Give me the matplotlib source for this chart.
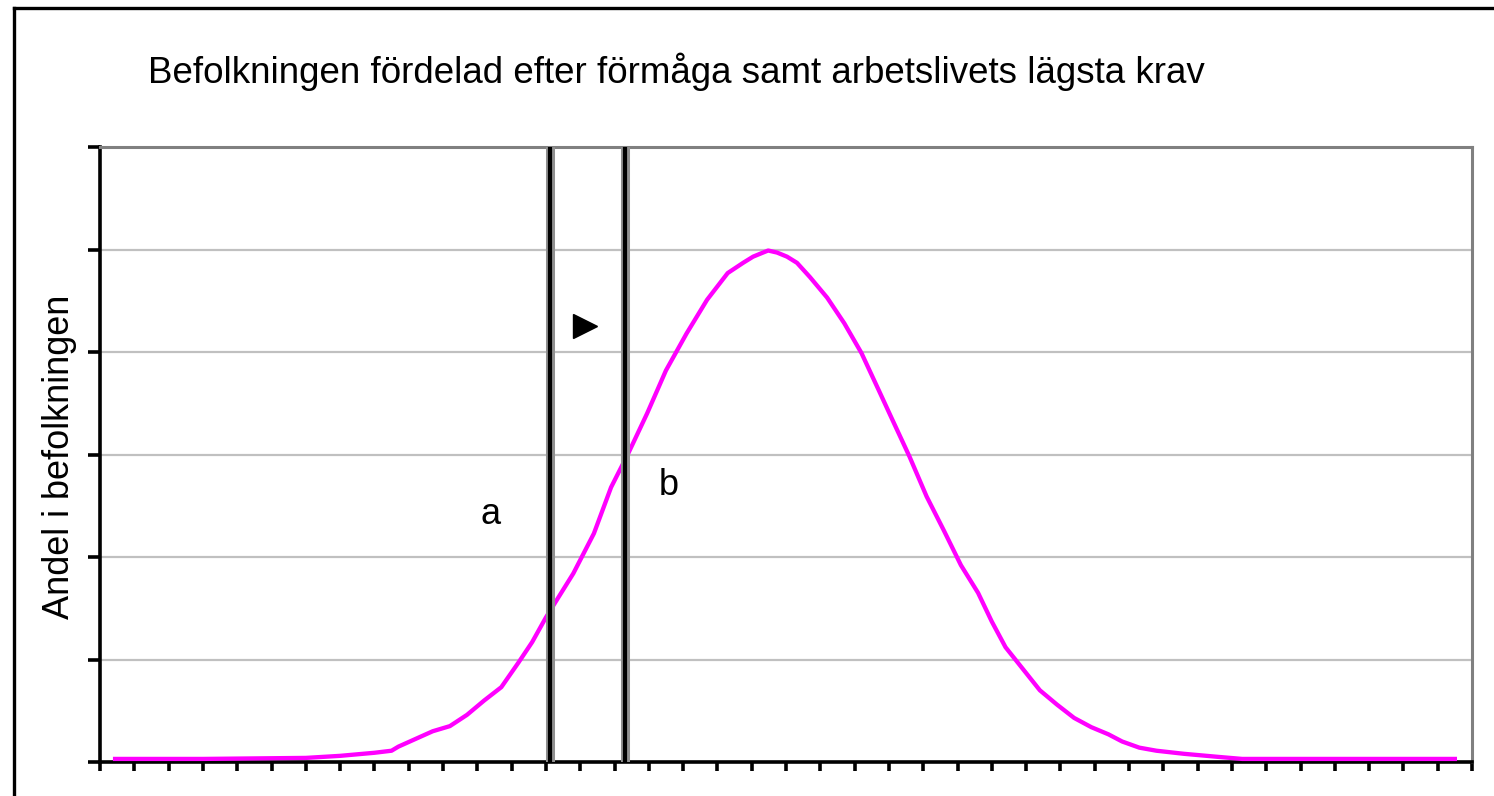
import matplotlib
matplotlib.use("Agg")
import matplotlib.pyplot as plt
from matplotlib.lines import Line2D

# ability scale (40 categories) and share of population
ability = [0.44, 3.0, 6.0, 7.0, 8.0, 8.5, 8.7, 9.1, 9.7, 10.2, 10.7, 11.2, 11.7,
           12.2, 12.6, 13.0, 13.8, 14.4, 14.9, 15.4, 15.95, 16.5, 17.1, 17.7,
           18.3, 18.75, 19.04, 19.33, 19.48, 19.74, 20.03, 20.32, 20.7, 21.2,
           21.7, 22.2, 22.7, 23.1, 23.6, 24.1, 24.6, 25.1, 25.6, 26.0, 26.4,
           26.9, 27.4, 27.9, 28.4, 28.9, 29.4, 29.8, 30.3, 30.8, 31.6, 32.6,
           33.3, 39.5]
share = [0.03, 0.03, 0.04, 0.06, 0.09, 0.11, 0.15, 0.21, 0.30, 0.35, 0.46, 0.60,
         0.73, 0.97, 1.17, 1.41, 1.84, 2.23, 2.68, 3.01, 3.40, 3.82, 4.18, 4.51,
         4.77, 4.87, 4.93, 4.97, 4.99, 4.97, 4.93, 4.87, 4.73, 4.53,
         4.28, 3.99, 3.63, 3.34, 2.98, 2.59, 2.26, 1.92, 1.65, 1.37, 1.12,
         0.91, 0.70, 0.56, 0.43, 0.34, 0.27, 0.20, 0.14, 0.11, 0.08, 0.05,
         0.03, 0.03]

# minimum demands of working life (vertical lines a and b)
krav_a = 13.13
krav_b = 15.31

title = "Befolkningen fördelad efter förmåga samt arbetslivets lägsta krav"
ylabel = "Andel i befolkningen"

plt.rcParams['font.family'] = ['Liberation Sans', 'DejaVu Sans']

fig = plt.figure(figsize=(14.94, 7.96), dpi=100)
ax = fig.add_axes([100 / 1494, 1 - 762 / 796, 1372 / 1494, 615 / 796])

ax.set_xlim(0, 40)
ax.set_ylim(0, 6)
ax.set_xticks(range(0, 41))
ax.set_yticks(range(0, 7))
ax.set_xticklabels([])
ax.set_yticklabels([])
ax.tick_params(axis='x', direction='out', length=6.5, width=2.6, color='black')
ax.tick_params(axis='y', direction='out', length=8.5, width=2.6, color='black')

for y in range(1, 6):
    ax.axhline(y, color='#c0c0c0', lw=1.6, zorder=1)

ax.spines['left'].set_color('black')
ax.spines['left'].set_linewidth(2.6)
ax.spines['bottom'].set_color('black')
ax.spines['bottom'].set_linewidth(2.6)
ax.spines['top'].set_color('#808080')
ax.spines['top'].set_linewidth(2.2)
ax.spines['right'].set_color('#808080')
ax.spines['right'].set_linewidth(2.2)

ax.plot(ability, share, color='#ff00ff', lw=3.1, zorder=3)

for x in (krav_a, krav_b):
    ax.axvline(x, color='#909090', lw=6.5, zorder=4)
    ax.axvline(x, color='black', lw=3.0, zorder=5)

ax.plot([14.14], [4.25], marker='>', color='black', ms=17, zorder=6)
ax.text(11.40, 2.41, "a", fontsize=26, ha='center', va='center')
ax.text(16.59, 2.70, "b", fontsize=26, ha='center', va='center')

fig.text(676 / 1494, 1 - 72 / 796, title, fontsize=26.5, ha='center', va='center')
fig.text(60 / 1494, 1 - 457 / 796, ylabel, fontsize=26, rotation=90,
         ha='center', va='center')

# outer chart border (only top and left visible)
fig.add_artist(Line2D([14 / 1494, 1.0], [1 - 7.5 / 796, 1 - 7.5 / 796],
                      transform=fig.transFigure, color='black', lw=2.4))
fig.add_artist(Line2D([14 / 1494, 14 / 1494], [0.0, 1 - 7.5 / 796],
                      transform=fig.transFigure, color='black', lw=2.4))

fig.savefig("out.png", dpi=100)
